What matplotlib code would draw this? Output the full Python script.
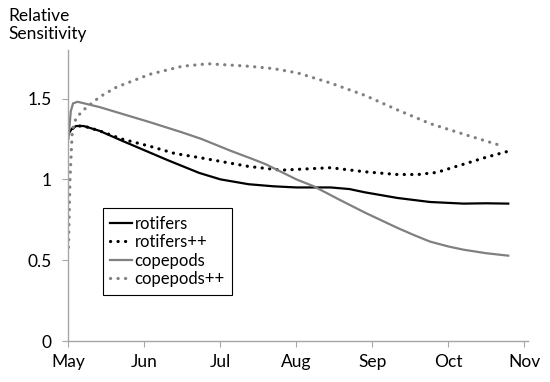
import matplotlib
matplotlib.use("Agg")
import matplotlib.pyplot as plt

plt.rcParams['font.family'] = ['Lato', 'DejaVu Sans']

# x in months since May 1
month_labels = ['May', 'Jun', 'Jul', 'Aug', 'Sep', 'Oct', 'Nov']

rot_x = [0.0, 0.04, 0.1, 0.2, 0.41, 0.7, 1.0, 1.3, 1.72, 2.0, 2.37, 2.7, 3.0,
         3.45, 3.7, 3.9, 4.33, 4.76, 5.2, 5.5, 5.79]
rot_y = [1.28, 1.31, 1.33, 1.33, 1.30, 1.24, 1.18, 1.12, 1.04, 1.00, 0.97, 0.957,
         0.95, 0.95, 0.94, 0.92, 0.885, 0.86, 0.85, 0.852, 0.85]

rotpp_x = [0.0, 0.04, 0.1, 0.2, 0.41, 0.7, 1.07, 1.4, 1.72, 2.37, 2.8, 3.02,
           3.45, 3.9, 4.33, 4.6, 4.85, 5.07, 5.28, 5.5, 5.79]
rotpp_y = [1.28, 1.31, 1.33, 1.33, 1.30, 1.25, 1.205, 1.16, 1.135, 1.08, 1.057,
           1.062, 1.072, 1.047, 1.03, 1.03, 1.043, 1.075, 1.105, 1.137, 1.174]

cop_x = [0.0, 0.03, 0.06, 0.12, 0.41, 1.07, 1.5, 1.75, 1.95, 2.15, 2.4, 2.6,
         3.0, 3.23, 3.56, 3.9, 4.33, 4.55, 4.76, 5.0, 5.2, 5.5, 5.79]
cop_y = [1.25, 1.42, 1.47, 1.48, 1.447, 1.354, 1.29, 1.25, 1.212, 1.174, 1.13,
         1.093, 1.0, 0.957, 0.876, 0.795, 0.70, 0.655, 0.615, 0.585, 0.565,
         0.543, 0.528]

coppp_x = [0.0, 0.02, 0.05, 0.1, 0.2, 0.41, 0.63, 1.07, 1.5, 1.84, 2.37, 2.7,
           3.02, 3.45, 3.9, 4.33, 4.76, 5.2, 5.72]
coppp_y = [0.58, 1.0, 1.3, 1.38, 1.43, 1.51, 1.57, 1.65, 1.70, 1.715, 1.70, 1.685,
           1.658, 1.596, 1.52, 1.43, 1.345, 1.28, 1.205]

fig = plt.figure(figsize=(5.5, 3.82), dpi=100)
ax = fig.add_axes([0.1245, 0.1073, 0.8355, 0.7617])

gray = '#808080'
dots = (0, (0.05, 2.3))
ax.plot(rot_x, rot_y, color='black', lw=1.6, label='rotifers')
ax.plot(rotpp_x, rotpp_y, color='black', lw=2.3, linestyle=dots,
        dash_capstyle='round', label='rotifers++')
ax.plot(cop_x, cop_y, color=gray, lw=1.6, label='copepods')
ax.plot(coppp_x, coppp_y, color=gray, lw=2.3, linestyle=dots,
        dash_capstyle='round', label='copepods++')

ax.set_xlim(0, 6.05)
ax.set_ylim(0, 1.8)
ax.set_xticks(range(7))
ax.set_xticklabels(month_labels)
ax.set_yticks([0, 0.5, 1, 1.5])
ax.set_yticklabels(['0', '0.5', '1', '1.5'])

for s in ['top', 'right']:
    ax.spines[s].set_visible(False)
for s in ['left', 'bottom']:
    ax.spines[s].set_color('#a6a6a6')
    ax.spines[s].set_linewidth(1.0)
ax.tick_params(axis='both', colors='#a6a6a6', labelcolor='black',
               labelsize=12.5, length=4, direction='out')
ax.tick_params(axis='y', pad=8)
ax.tick_params(axis='x', pad=5)

leg = ax.legend(loc='upper left', bbox_to_anchor=(0.075, 0.457), fontsize=12,
                handlelength=1.3, handletextpad=0.15, borderpad=0.45,
                labelspacing=0.15, fancybox=False, framealpha=1,
                edgecolor='black', borderaxespad=0)
leg.get_frame().set_linewidth(0.8)

fig.text(0.016, 0.978, 'Relative\nSensitivity', ha='left', va='top',
         fontsize=12.5, linespacing=1.15)

fig.savefig('out.png', dpi=100)
